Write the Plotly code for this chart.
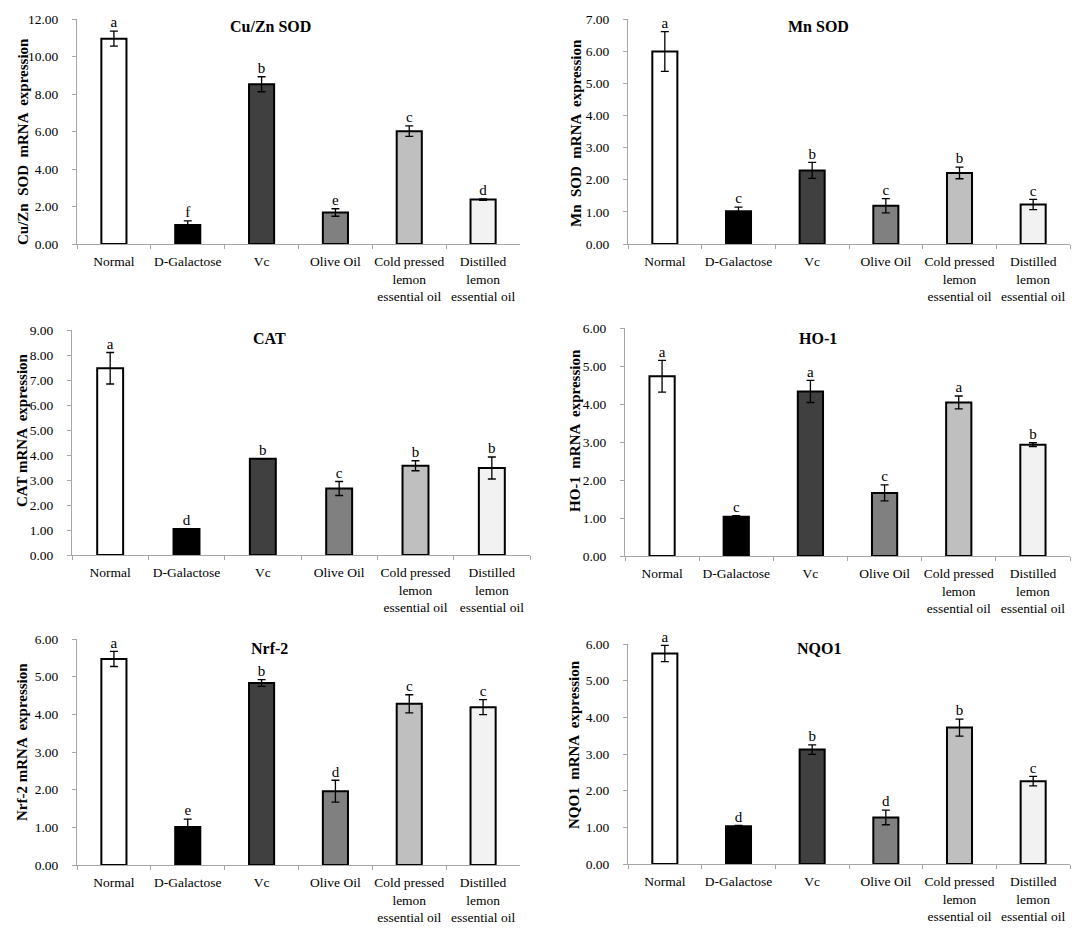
import plotly.graph_objects as go

categories = ["Normal", "D-Galactose", "Vc", "Olive Oil",
              "Cold pressed<br>lemon<br>essential oil",
              "Distilled<br>lemon<br>essential oil"]
bar_colors = ["#ffffff", "#000000", "#404040", "#808080", "#bfbfbf", "#f2f2f2"]

cuzn_vals = [10.95, 1.01, 8.52, 1.68, 6.02, 2.37]
cuzn_err = [0.40, 0.22, 0.40, 0.20, 0.28, 0.04]
cuzn_letters = ["a", "f", "b", "e", "c", "d"]

mn_vals = [5.99, 1.02, 2.29, 1.19, 2.21, 1.23]
mn_err = [0.62, 0.13, 0.25, 0.22, 0.18, 0.16]
mn_letters = ["a", "c", "b", "c", "b", "c"]

cat_vals = [7.47, 1.04, 3.85, 2.66, 3.57, 3.48]
cat_err = [0.63, 0.0, 0.0, 0.28, 0.20, 0.44]
cat_letters = ["a", "d", "b", "c", "b", "b"]

ho_vals = [4.73, 1.03, 4.33, 1.66, 4.04, 2.93]
ho_err = [0.42, 0.03, 0.29, 0.21, 0.17, 0.05]
ho_letters = ["a", "c", "a", "c", "a", "b"]

nrf_vals = [5.47, 1.01, 4.83, 1.96, 4.28, 4.19]
nrf_err = [0.20, 0.21, 0.09, 0.29, 0.24, 0.20]
nrf_letters = ["a", "e", "b", "d", "c", "c"]

nqo_vals = [5.74, 1.03, 3.12, 1.27, 3.72, 2.26]
nqo_err = [0.22, 0.02, 0.13, 0.20, 0.23, 0.13]
nqo_letters = ["a", "d", "b", "d", "b", "c"]

panels = [
    ("Cu/Zn SOD", "Cu/Zn  SOD  mRNA  expression", cuzn_vals, cuzn_err, cuzn_letters, 12, 2),
    ("Mn SOD", "Mn  SOD  mRNA  expression", mn_vals, mn_err, mn_letters, 7, 1),
    ("CAT", "CAT mRNA  expression", cat_vals, cat_err, cat_letters, 9, 1),
    ("HO-1", "HO-1  mRNA  expression", ho_vals, ho_err, ho_letters, 6, 1),
    ("Nrf-2", "Nrf-2 mRNA  expression", nrf_vals, nrf_err, nrf_letters, 6, 1),
    ("NQO1", "NQO1  mRNA  expression", nqo_vals, nqo_err, nqo_letters, 6, 1),
]

W, H = 1084, 930
OFF = 8  # page body margin offset
# pixel boxes in screenshot coords: (x0, x1, ytop, ybottom)
boxes = [
    (77, 520, 19, 244),
    (628, 1070, 19, 244),
    (72, 530, 330, 555),
    (625, 1070, 328, 556),
    (77, 520, 639, 865),
    (628, 1070, 644, 864),
]
title_pos = [(270, 27), (818, 27), (269, 338), (818, 338), (269, 648), (819, 648)]
ytitle_pos = [(23, 142), (576, 133), (22, 430), (575, 431), (22, 742), (574, 745)]

FONT = "Liberation Serif"
fig = go.Figure()
layout = dict(
    width=W, height=H, margin=dict(l=0, r=0, t=0, b=0, autoexpand=False),
    paper_bgcolor="white", plot_bgcolor="white", showlegend=False,
    font=dict(family=FONT, size=13, color="black"),
    annotations=[],
)

for i, (title, ylab, vals, errs, letters, ymax, dtick) in enumerate(panels):
    n = "" if i == 0 else str(i + 1)
    xa, ya = "x" + n, "y" + n
    fig.add_trace(go.Bar(
        x=categories, y=vals, xaxis=xa, yaxis=ya, width=0.34,
        marker=dict(color=bar_colors, line=dict(color="black", width=2)),
        error_y=dict(type="data", array=errs, visible=True, color="black",
                     thickness=1.3, width=4),
    ))
    tops = [v + e for v, e in zip(vals, errs)]
    fig.add_trace(go.Scatter(
        x=categories, y=tops, xaxis=xa, yaxis=ya, mode="text", text=letters,
        textposition="top center", textfont=dict(family=FONT, size=15, color="#000000"),
        cliponaxis=False,
    ))
    x0, x1, yt, yb = [v - OFF for v in boxes[i]]
    layout["xaxis" + n] = dict(
        domain=[x0 / W, x1 / W], anchor=ya, showline=True, linecolor="#a6a6a6",
        linewidth=1, ticks="outside", tickson="boundaries", ticklen=4,
        tickcolor="#a6a6a6", showgrid=False, tickangle=0, automargin=False,
        tickfont=dict(family=FONT, size=13.5), ticklabelstandoff=5, fixedrange=True,
    )
    layout["yaxis" + n] = dict(
        domain=[1 - yb / H, 1 - yt / H], anchor=xa, range=[0, ymax], dtick=dtick,
        tickformat=".2f", showline=True, linecolor="#a6a6a6", linewidth=1,
        ticks="outside", ticklen=4, tickcolor="#a6a6a6", showgrid=False,
        zeroline=False, tickfont=dict(family=FONT, size=13.5), ticklabelstandoff=11,
        automargin=False,
    )
    tx, ty = title_pos[i]
    layout["annotations"].append(dict(
        text="<b>" + title + "</b>", x=(tx - OFF) / W, y=1 - (ty - OFF) / H,
        xref="paper", yref="paper", showarrow=False,
        font=dict(family=FONT, size=16, color="black"),
        xanchor="center", yanchor="middle",
    ))
    yx, yy = ytitle_pos[i]
    layout["annotations"].append(dict(
        text="<b>" + ylab + "</b>", x=(yx - OFF) / W, y=1 - (yy - OFF) / H,
        xref="paper", yref="paper", showarrow=False, textangle=-90,
        font=dict(family=FONT, size=15, color="black"),
        xanchor="center", yanchor="middle",
    ))

fig.update_layout(**layout)
fig.write_html("out.html")
